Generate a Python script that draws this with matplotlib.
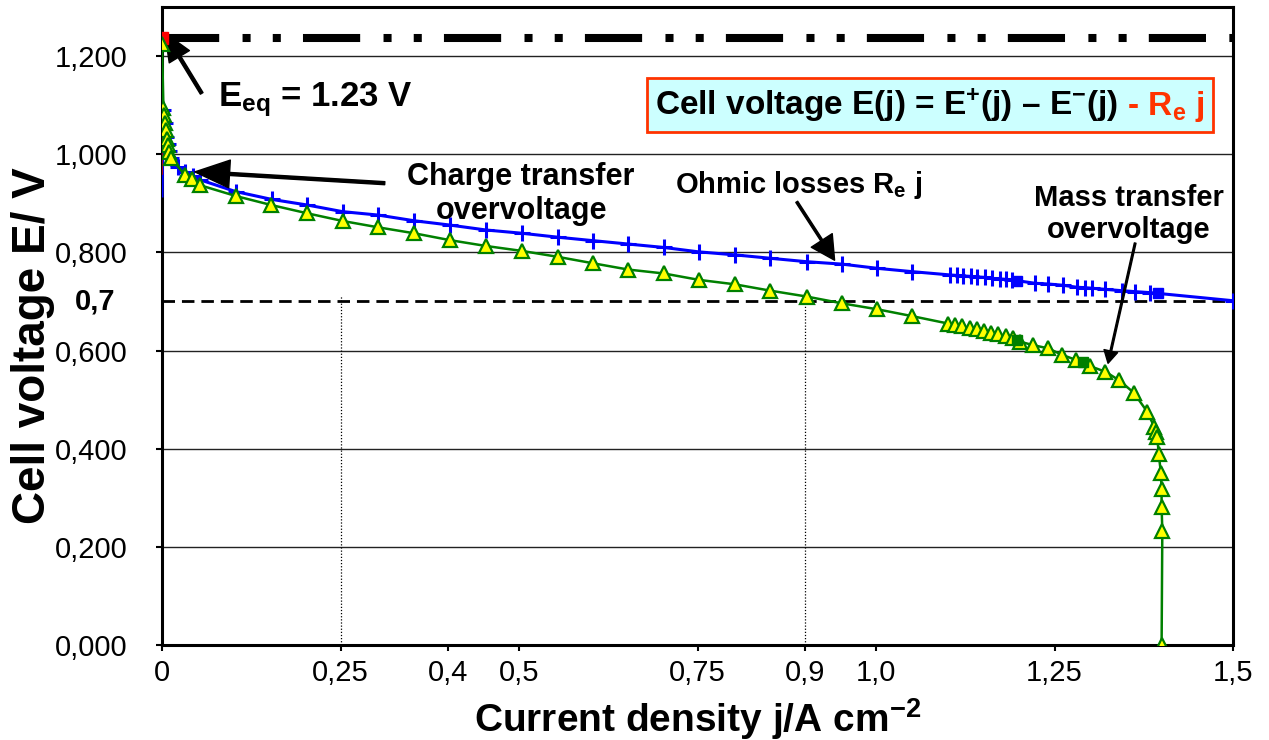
import numpy as np
import matplotlib.pyplot as plt
from matplotlib.offsetbox import TextArea, HPacker, AnnotationBbox

plt.rcParams['font.family'] = ['Liberation Sans', 'DejaVu Sans']
plt.rcParams['mathtext.fontset'] = 'custom'
plt.rcParams['mathtext.rm'] = 'Liberation Sans:bold'
plt.rcParams['mathtext.it'] = 'Liberation Sans:bold'
plt.rcParams['mathtext.bf'] = 'Liberation Sans:bold'
plt.rcParams['mathtext.default'] = 'rm'

# cell voltage with all losses (green triangles)
j_cell = [0, 0.002, 0.003, 0.004, 0.005, 0.0066, 0.008, 0.010, 0.0126, 0.032,
          0.0425, 0.053, 0.103, 0.153, 0.2035, 0.253, 0.303, 0.353, 0.403, 0.454,
          0.504, 0.554, 0.603, 0.653, 0.703, 0.752, 0.802, 0.852, 0.903, 0.953,
          1.002, 1.051, 1.101, 1.111, 1.120, 1.131, 1.141, 1.151, 1.161, 1.171,
          1.182, 1.192, 1.202, 1.220, 1.241, 1.261, 1.280, 1.300, 1.321, 1.341,
          1.361, 1.380, 1.390, 1.392, 1.394, 1.396, 1.399, 1.400, 1.400, 1.401,
          1.400]
E_cell = [1.225, 1.0935, 1.080, 1.063, 1.049, 1.032, 1.019, 1.005, 0.992, 0.958,
          0.949, 0.937, 0.915, 0.8965, 0.8796, 0.864, 0.851, 0.839, 0.825, 0.813,
          0.803, 0.791, 0.778, 0.765, 0.757, 0.744, 0.735, 0.722, 0.710, 0.696,
          0.684, 0.670, 0.655, 0.652, 0.649, 0.646, 0.643, 0.640, 0.636, 0.633,
          0.629, 0.625, 0.618, 0.611, 0.6045, 0.591, 0.581, 0.568, 0.557, 0.539,
          0.514, 0.475, 0.4436, 0.4346, 0.423, 0.389, 0.351, 0.317, 0.282, 0.233,
          0.0]

# without mass transfer (blue crosses)
j_kin = [0, 0.002, 0.004, 0.006, 0.008, 0.010, 0.0126, 0.023, 0.032, 0.043,
         0.053, 0.103, 0.1536, 0.2035, 0.253, 0.303, 0.353, 0.403, 0.454, 0.504,
         0.554, 0.603, 0.653, 0.703, 0.752, 0.802, 0.852, 0.903, 0.953, 1.002,
         1.051, 1.104, 1.113, 1.122, 1.133, 1.142, 1.153, 1.162, 1.173, 1.182,
         1.190, 1.223, 1.241, 1.262, 1.281, 1.293, 1.302, 1.321, 1.344, 1.363,
         1.384, 1.5]
E_kin = [0.915, 1.090, 1.063, 1.035, 1.020, 1.006, 0.993, 0.973, 0.963, 0.955,
         0.948, 0.924, 0.908, 0.8965, 0.883, 0.876, 0.8645, 0.8557, 0.8456, 0.839,
         0.831, 0.824, 0.817, 0.810, 0.801, 0.795, 0.788, 0.781, 0.776, 0.7675,
         0.7607, 0.754, 0.753, 0.752, 0.751, 0.750, 0.749, 0.747, 0.746, 0.745,
         0.744, 0.737, 0.7356, 0.733, 0.729, 0.728, 0.727, 0.7247, 0.722, 0.720,
         0.718, 0.7015]

j_sq_green = [1.197, 1.290]
E_sq_green = [0.621, 0.576]
j_sq_blue = [1.198, 1.395]
E_sq_blue = [0.742, 0.7166]

j_eq = [0, 0]
E_eq_line = [1.237, 0.96]
E_eq = 1.237
E_op = 0.7
j_op = [0.25, 0.9]
E_op_top = 0.711

x_ticks = [0, 0.25, 0.4, 0.5, 0.75, 0.9, 1.0, 1.25, 1.5]
x_ticklabels = ['0', '0,25', '0,4', '0,5', '0,75', '0,9', '1,0', '1,25', '1,5']
y_ticks = [0, 0.2, 0.4, 0.6, 0.8, 1.0, 1.2]
y_ticklabels = ['0,000', '0,200', '0,400', '0,600', '0,800', '1,000', '1,200']

fig = plt.figure(figsize=(12.69, 7.4), dpi=100)
ax = fig.add_axes([162 / 1269, 95 / 740, 1071 / 1269, 638 / 740])
ax.set_xlim(0, 1.5)
ax.set_ylim(0, 1.3)

for y in y_ticks[1:]:
    ax.axhline(y, color='#222222', lw=1.0, zorder=0.5)

ax.axhline(E_op, color='black', lw=2.0, dashes=(4.5, 2.5), zorder=2)
for j in j_op:
    ax.plot([j, j], [0, E_op_top], color='black', lw=0.9, ls=(0, (1, 1.5)), zorder=1)

ax.axhline(E_eq, color='black', lw=5.8, dashes=(7.1, 2.9, 1, 2.75, 1, 2.75),
           zorder=2)

ax.plot(j_kin, E_kin, color='#0000FF', lw=2.2, marker='+', ms=11, mew=2.2,
        markevery=list(range(1, len(j_kin))), zorder=3)
ax.plot(j_sq_blue, E_sq_blue, ls='none', marker='s', ms=7.5, color='#0000FF',
        zorder=3)
ax.plot(j_eq, E_eq_line, color='#CC0000', lw=1.2, marker='s', ms=8,
        markevery=[0], mfc='#FF0000', mec='#FF0000', zorder=3.5)
ax.plot(j_cell, E_cell, color='#008000', lw=1.8, marker='^', ms=9.5,
        mfc='#FFFF00', mec='#008000', mew=1.6, zorder=4)
ax.plot(j_sq_green, E_sq_green, ls='none', marker='s', ms=7, color='#008000',
        zorder=4)

ax.set_xticks(x_ticks, x_ticklabels)
ax.set_yticks(y_ticks, y_ticklabels)
ax.tick_params(axis='x', labelsize=21, length=4, width=1.5, pad=6)
ax.tick_params(axis='y', labelsize=21, length=4, width=1.5, pad=21)
for s in ax.spines.values():
    s.set_linewidth(2.2)

ax.text(-0.044, E_op, '0,7', transform=ax.get_yaxis_transform(), ha='right',
        va='center', fontsize=21, fontweight='bold')

ax.set_xlabel('Current density j/A cm$^{-2}$', fontsize=28, fontweight='bold')
ax.xaxis.set_label_coords(0.5, -0.08)
ax.set_ylabel('Cell voltage E/ V', fontsize=33, fontweight='bold')
ax.yaxis.set_label_coords(-0.100, 0.47)

arrow_big = dict(facecolor='black', edgecolor='black', width=2.2,
                 headwidth=17, headlength=20, shrink=0)
ax.annotate('', xy=(0.004, 1.247), xytext=(0.0556, 1.124), arrowprops=arrow_big)
ax.annotate('', xy=(0.046, 0.964), xytext=(0.312, 0.941),
            arrowprops=dict(arrow_big, headwidth=20, headlength=25))
ax.annotate('', xy=(0.942, 0.784), xytext=(0.889, 0.903),
            arrowprops=dict(arrow_big, width=1.6, headwidth=18, headlength=17))
ax.annotate('', xy=(1.325, 0.574), xytext=(1.363, 0.819),
            arrowprops=dict(arrow_big, width=1.2, headwidth=10, headlength=9))

ax.text(0.0784, 1.098, 'E$_{eq}$ = 1.23 V', fontsize=25, fontweight='bold',
        ha='left', va='baseline')
ax.text(0.503, 0.8686, 'Charge transfer\novervoltage', fontsize=22,
        fontweight='bold', ha='center', va='baseline', linespacing=1.15)
ax.text(0.892, 0.922, 'Ohmic losses R$_{e}$ j', fontsize=21, fontweight='bold',
        ha='center', va='baseline')
ax.text(1.354, 0.8293, 'Mass transfer\novervoltage', fontsize=21,
        fontweight='bold', ha='center', va='baseline', linespacing=1.2)

# equation box
t_black = TextArea('Cell voltage E(j) = E$^{+}$(j) – E$^{-}$(j)',
                   textprops=dict(fontsize=24, fontweight='bold', color='black'))
t_red = TextArea(' - R$_{e}$ j',
                 textprops=dict(fontsize=24, fontweight='bold', color='#FF3300'))
box = HPacker(children=[t_black, t_red], align='baseline', pad=0, sep=0)
ab = AnnotationBbox(box, (1.075, 1.100), xycoords='data', box_alignment=(0.5, 0.5),
                    pad=0.6,
                    bboxprops=dict(facecolor='#CCFFFF', edgecolor='#FF3300', lw=2))
ax.add_artist(ab)

fig.savefig('out.png', dpi=100)
